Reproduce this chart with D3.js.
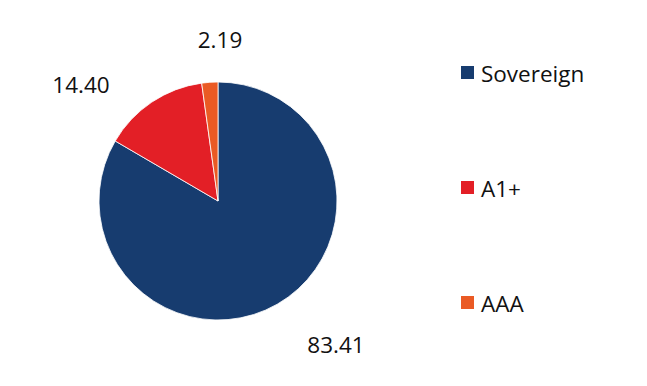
<!DOCTYPE html>
<html>
<head>
<meta charset="utf-8">
<script src="https://cdn.jsdelivr.net/npm/d3@7"></script>
<style>
  body { margin: 0; background: #fff; }
  text { font-family: "Open Sans", "Noto Sans", sans-serif; fill: #111; }
</style>
</head>
<body>
<svg id="chart" width="647" height="386"></svg>
<script>
var categories = ["Sovereign", "A1+", "AAA"];
var values = [83.41, 14.40, 2.19];
var colors = ["#173c6f", "#e31f26", "#ea5a24"];
var labelPos = [[336, 353], [81, 93], [220, 48]];

var svg = d3.select("#chart");
var cx = 218, cy = 201, r = 119;

var data = categories.map(function (c, i) {
  return { name: c, value: values[i], color: colors[i] };
});

var pie = d3.pie().sort(null).value(function (d) { return d.value; });
var arc = d3.arc().innerRadius(0).outerRadius(r);

var g = svg.append("g").attr("transform", "translate(" + cx + "," + cy + ")");
g.selectAll("path")
  .data(pie(data))
  .enter().append("path")
  .attr("d", arc)
  .attr("fill", function (d) { return d.data.color; })
  .attr("stroke", "#fff")
  .attr("stroke-width", 0.8);

svg.selectAll(".lbl")
  .data(data)
  .enter().append("text")
  .attr("class", "lbl")
  .attr("x", function (d, i) { return labelPos[i][0]; })
  .attr("y", function (d, i) { return labelPos[i][1]; })
  .attr("text-anchor", "middle")
  .style("font-size", "22.5px")
  .text(function (d) { return d.value.toFixed(2); });

var legendY = d3.scalePoint().domain(categories).range([73, 303]);
var leg = svg.selectAll(".leg")
  .data(data)
  .enter().append("g")
  .attr("class", "leg")
  .attr("transform", function (d) { return "translate(461," + legendY(d.name) + ")"; });
leg.append("rect")
  .attr("x", 0).attr("y", -7)
  .attr("width", 13).attr("height", 13)
  .attr("fill", function (d) { return d.color; });
leg.append("text")
  .attr("x", 20).attr("y", 9)
  .style("font-size", "22.5px")
  .text(function (d) { return d.name; });
</script>
</body>
</html>
